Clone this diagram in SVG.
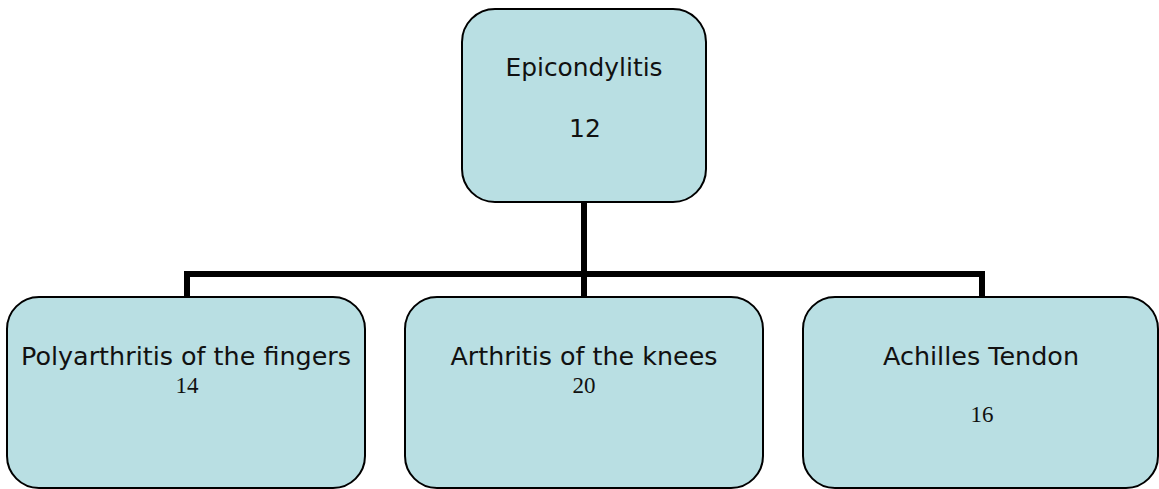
<svg xmlns="http://www.w3.org/2000/svg" width="1159" height="489" viewBox="0 0 1159 489">
<style>
.box{fill:#B9DFE3;stroke:#000;stroke-width:2}
.lbl{font-family:"DejaVu Sans",Verdana,sans-serif;font-size:25px;fill:#111;text-anchor:middle}
.num{font-family:"Liberation Serif","Times New Roman",serif;font-size:23px;fill:#111;text-anchor:middle}
.conn{fill:none;stroke:#000;stroke-width:6;stroke-linecap:butt;stroke-linejoin:miter}
</style>
<rect width="1159" height="489" fill="#fff"/>
<g id="connectors">
<path class="conn" d="M584,202 V297"/>
<path class="conn" d="M187,297 V274 H982 V297"/>
</g>
<g id="node-epicondylitis">
<rect class="box" x="462" y="9" width="244" height="193" rx="33" ry="33"/>
<text class="lbl" x="584" y="76" textLength="157" lengthAdjust="spacingAndGlyphs">Epicondylitis</text>
<text class="lbl" x="585" y="137">12</text>
</g>
<g id="node-polyarthritis">
<rect class="box" x="7" y="297" width="358" height="191" rx="32" ry="32"/>
<text class="lbl" x="186" y="365" textLength="330" lengthAdjust="spacingAndGlyphs">Polyarthritis of the fingers</text>
<text class="num" x="187" y="393">14</text>
</g>
<g id="node-knees">
<rect class="box" x="405" y="297" width="358" height="191" rx="32" ry="32"/>
<text class="lbl" x="584" y="365" textLength="267" lengthAdjust="spacingAndGlyphs">Arthritis of the knees</text>
<text class="num" x="584" y="393">20</text>
</g>
<g id="node-achilles">
<rect class="box" x="803" y="297" width="355" height="191" rx="32" ry="32"/>
<text class="lbl" x="981" y="365" textLength="196" lengthAdjust="spacingAndGlyphs">Achilles Tendon</text>
<text class="num" x="982" y="422">16</text>
</g>
</svg>
